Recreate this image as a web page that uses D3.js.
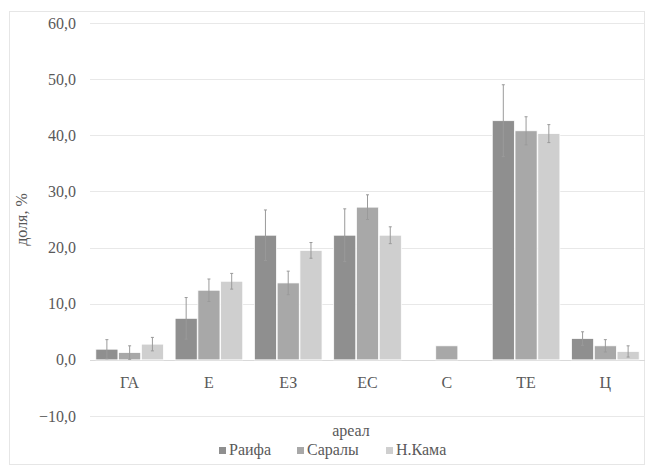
<!DOCTYPE html>
<html lang="ru">
<head>
<meta charset="UTF-8">
<title>Ареал</title>
<script src="https://d3js.org/d3.v7.min.js"></script>
<style>
  body { margin: 0; background: #fff; }
  svg { display: block; }
  svg text { font-family: "Liberation Serif", "Times New Roman", Times, "DejaVu Serif", serif; }
</style>
</head>
<body>
<svg></svg>
<script>
const width = 654, height = 465;

const categories = ["ГА", "Е", "ЕЗ", "ЕС", "С", "ТЕ", "Ц"];
const seriesNames = ["Раифа", "Саралы", "Н.Кама"];
const raifa  = [1.9, 7.4, 22.2, 22.2, 0, 42.6, 3.8];
const saraly = [1.3, 12.4, 13.7, 27.2, 2.5, 40.8, 2.5];
const nkama  = [2.8, 14.0, 19.5, 22.2, 0, 40.3, 1.5];
const raifaErr  = [1.7, 3.7, 4.5, 4.7, 0, 6.4, 1.2];
const saralyErr = [1.2, 2.0, 2.1, 2.2, 0, 2.5, 1.1];
const nkamaErr  = [1.2, 1.4, 1.4, 1.5, 0, 1.6, 1.0];
const yTicks = [-10, 0, 10, 20, 30, 40, 50, 60];
const colors = ["#8f8f8f", "#a8a8a8", "#cfcfcf"];

const values = [raifa, saraly, nkama];
const errors = [raifaErr, saralyErr, nkamaErr];

const margin = {left: 90, right: 9, top: 23, bottom: 49};

const svg = d3.select("svg")
    .attr("width", width)
    .attr("height", height);

// outer border
svg.append("rect")
    .attr("x", 9.5).attr("y", 11.5)
    .attr("width", width - 19).attr("height", height - 12)
    .attr("fill", "none").attr("stroke", "#e6e6e6");

const y = d3.scaleLinear()
    .domain([-10, 60])
    .range([height - margin.bottom, margin.top]);

const x0 = d3.scaleBand()
    .domain(categories)
    .range([margin.left, width - margin.right])
    .paddingInner(0.13)
    .paddingOuter(0.065);

const x1 = d3.scaleBand()
    .domain(d3.range(seriesNames.length))
    .range([0, x0.bandwidth()])
    .padding(0.03);

// gridlines
svg.append("g")
    .selectAll("line")
    .data(yTicks)
    .join("line")
    .attr("x1", margin.left).attr("x2", width - margin.right)
    .attr("y1", d => Math.round(y(d)) + 0.5).attr("y2", d => Math.round(y(d)) + 0.5)
    .attr("stroke", d => d === 0 ? "#d9d9d9" : "#e8e8e8");

// y axis labels
const yAxis = d3.axisLeft(y)
    .tickValues(yTicks)
    .tickSize(0)
    .tickPadding(14)
    .tickFormat(d => d3.format(".1f")(d).replace(".", ","));

svg.append("g")
    .attr("transform", `translate(${margin.left},0)`)
    .call(yAxis)
    .attr("font-family", null)
    .call(g => g.select(".domain").remove())
    .call(g => g.selectAll("text")
        .attr("font-size", 16)
        .attr("fill", "#595959"));

// bars
const groups = svg.append("g")
    .selectAll("g")
    .data(categories)
    .join("g")
    .attr("transform", d => `translate(${x0(d)},0)`);

groups.selectAll("rect")
    .data((d, i) => values.map((v, s) => ({s, v: v[i], e: errors[s][i]})).filter(d => d.v > 0))
    .join("rect")
    .attr("x", d => x1(d.s))
    .attr("width", x1.bandwidth())
    .attr("y", d => y(d.v))
    .attr("height", d => y(0) - y(d.v))
    .attr("fill", d => colors[d.s])
    .attr("stroke", "#fff")
    .attr("stroke-width", 0.75);

// error bars
const eb = groups.selectAll("g.err")
    .data((d, i) => values.map((v, s) => ({s, v: v[i], e: errors[s][i]})).filter(d => d.e > 0))
    .join("g")
    .attr("class", "err")
    .attr("stroke", "#9a9a9a")
    .attr("stroke-width", 1);

eb.append("line")
    .attr("x1", d => x1(d.s) + x1.bandwidth() / 2)
    .attr("x2", d => x1(d.s) + x1.bandwidth() / 2)
    .attr("y1", d => y(d.v + d.e))
    .attr("y2", d => y(Math.max(d.v - d.e, 0)));

eb.selectAll("line.cap")
    .data(d => [d.v + d.e, Math.max(d.v - d.e, 0)].map(t => ({s: d.s, t})))
    .join("line")
    .attr("class", "cap")
    .attr("x1", d => x1(d.s) + x1.bandwidth() / 2 - 1.5)
    .attr("x2", d => x1(d.s) + x1.bandwidth() / 2 + 1.5)
    .attr("y1", d => y(d.t))
    .attr("y2", d => y(d.t));

// category labels
svg.append("g")
    .selectAll("text")
    .data(categories)
    .join("text")
    .attr("x", d => x0(d) + x0.bandwidth() / 2)
    .attr("y", y(0) + 28)
    .attr("text-anchor", "middle")
    .attr("font-size", 16)
    .attr("fill", "#595959")
    .text(d => d);

// axis titles
svg.append("text")
    .attr("x", 351).attr("y", 436)
    .attr("text-anchor", "middle")
    .attr("font-size", 16)
    .attr("fill", "#595959")
    .text("ареал");

svg.append("text")
    .attr("transform", `translate(27,${(y(-10) + y(60)) / 2}) rotate(-90)`)
    .attr("text-anchor", "middle")
    .attr("font-size", 16)
    .attr("fill", "#595959")
    .text("доля, %");

// legend
const legendX = [219, 297, 386];
const legend = svg.append("g")
    .selectAll("g")
    .data(seriesNames)
    .join("g")
    .attr("transform", (d, i) => `translate(${legendX[i]},455)`);

legend.append("rect")
    .attr("x", 0).attr("y", -8)
    .attr("width", 7).attr("height", 7)
    .attr("fill", (d, i) => colors[i]);

legend.append("text")
    .attr("x", 10)
    .attr("y", 0)
    .attr("font-size", 16)
    .attr("fill", "#595959")
    .text(d => d);
</script>
</body>
</html>
